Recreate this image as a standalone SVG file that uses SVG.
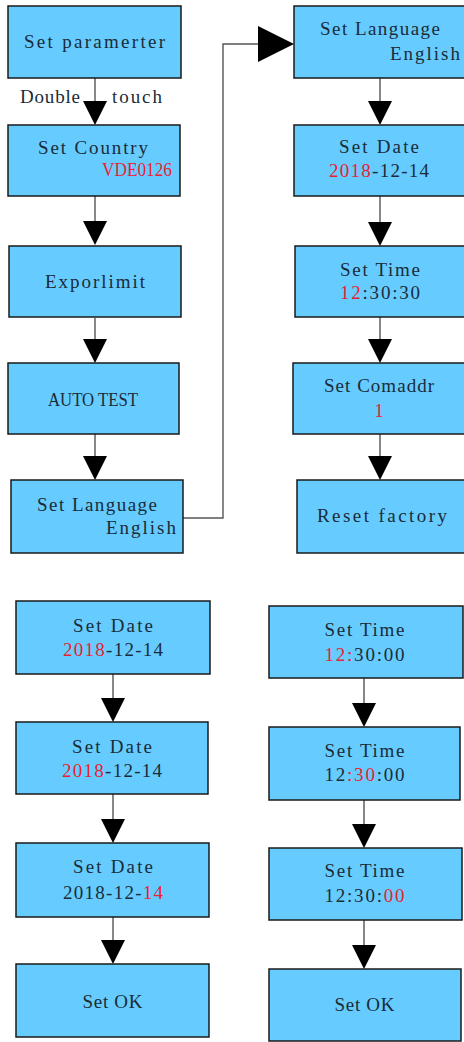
<svg xmlns="http://www.w3.org/2000/svg" width="464" height="1042" viewBox="0 0 464 1042">
<style>
.box{fill:#66ccff;stroke:#1a1a1a;stroke-width:1.5}
.t{font-family:"Liberation Serif","DejaVu Serif",serif;font-size:19px;fill:#1b2b38;text-anchor:middle}
.e{text-anchor:end}
.s{text-anchor:start}
.r{fill:#e8222f}
.ln{fill:none;stroke:#555;stroke-width:1.4}
.ah{fill:#000}
</style>
<rect width="464" height="1042" fill="#fff"/>
<g id="connectors">
<path class="ln" d="M95,78V101M95,196V221M95,318V339M95,434V456M183,518H223V44H258M380,78V101M380,196V222M380,317V339M380,434V456M113,674V698M113,794V819M113,917V940M364,678V703M364,800V824M364,920V945"/>
<polygon class="ah" points="83,101 107,101 95,125"/>
<polygon class="ah" points="83,221 107,221 95,245"/>
<polygon class="ah" points="83,339 107,339 95,363"/>
<polygon class="ah" points="83,456 107,456 95,480"/>
<polygon class="ah" points="258,26 294,44 258,62"/>
<polygon class="ah" points="368,101 392,101 380,125"/>
<polygon class="ah" points="368,222 392,222 380,246"/>
<polygon class="ah" points="368,339 392,339 380,363"/>
<polygon class="ah" points="368,456 392,456 380,480"/>
<polygon class="ah" points="101,698 125,698 113,722"/>
<polygon class="ah" points="101,819 125,819 113,843"/>
<polygon class="ah" points="101,940 125,940 113,964"/>
<polygon class="ah" points="352,703 376,703 364,727"/>
<polygon class="ah" points="352,824 376,824 364,848"/>
<polygon class="ah" points="352,945 376,945 364,969"/>
<text class="t s" x="20" y="103" textLength="60">Double</text>
<text class="t s" x="112" y="103" textLength="50">touch</text>
</g>
<g id="n1"><rect class="box" x="8" y="6" width="173" height="72"/><text class="t" x="94.5" y="48" textLength="141">Set paramerter</text></g>
<g id="n2"><rect class="box" x="8" y="125" width="172" height="71"/><text class="t" x="93" y="154" textLength="110">Set Country</text><text class="t e r" x="172" y="176" textLength="70" lengthAdjust="spacingAndGlyphs">VDE0126</text></g>
<g id="n3"><rect class="box" x="9" y="246" width="172" height="71"/><text class="t" x="95" y="288" textLength="100">Exporlimit</text></g>
<g id="n4"><rect class="box" x="8" y="363" width="171" height="71"/><text class="t" x="93" y="406" textLength="90" lengthAdjust="spacingAndGlyphs">AUTO TEST</text></g>
<g id="n5"><rect class="box" x="11" y="480" width="172" height="73"/><text class="t" x="97" y="511" textLength="120">Set Language</text><text class="t e" x="176" y="534" textLength="70">English</text></g>
<g id="r1"><rect class="box" x="294" y="6" width="175" height="72"/><text class="t" x="380" y="35" textLength="120">Set Language</text><text class="t e" x="460" y="60" textLength="70">English</text></g>
<g id="r2"><rect class="box" x="294" y="125" width="175" height="71"/><text class="t" x="379" y="153" textLength="80">Set Date</text><text class="t" x="379" y="177" textLength="100"><tspan class="r">2018</tspan>-12-14</text></g>
<g id="r3"><rect class="box" x="295" y="246" width="175" height="71"/><text class="t" x="380" y="276" textLength="80">Set Time</text><text class="t" x="380" y="299" textLength="80"><tspan class="r">12</tspan>:30:30</text></g>
<g id="r4"><rect class="box" x="293" y="363" width="175" height="71"/><text class="t" x="379" y="392" textLength="110">Set Comaddr</text><text class="t r" x="379" y="417">1</text></g>
<g id="r5"><rect class="box" x="297" y="480" width="175" height="73"/><text class="t" x="382" y="522" textLength="130">Reset factory</text></g>
<g id="b1"><rect class="box" x="16" y="601" width="194" height="73"/><text class="t" x="113" y="632" textLength="80">Set Date</text><text class="t" x="113" y="656" textLength="100"><tspan class="r">2018</tspan>-12-14</text></g>
<g id="b2"><rect class="box" x="16" y="722" width="192" height="72"/><text class="t" x="112" y="753" textLength="80">Set Date</text><text class="t" x="112" y="777" textLength="100"><tspan class="r">2018</tspan>-12-14</text></g>
<g id="b3"><rect class="box" x="16" y="843" width="193" height="74"/><text class="t" x="113" y="873" textLength="80">Set Date</text><text class="t" x="113" y="899" textLength="100">2018-12-<tspan class="r">14</tspan></text></g>
<g id="b4"><rect class="box" x="16" y="964" width="193" height="73"/><text class="t" x="112.5" y="1008" textLength="60">Set OK</text></g>
<g id="c1"><rect class="box" x="269" y="606" width="194" height="72"/><text class="t" x="364.5" y="636" textLength="80">Set Time</text><text class="t" x="364.5" y="661" textLength="80"><tspan class="r">12:</tspan>30:00</text></g>
<g id="c2"><rect class="box" x="269" y="727" width="191" height="73"/><text class="t" x="364.5" y="757" textLength="80">Set Time</text><text class="t" x="364.5" y="781" textLength="80">12<tspan class="r">:30</tspan>:00</text></g>
<g id="c3"><rect class="box" x="269" y="848" width="193" height="72"/><text class="t" x="364.5" y="877" textLength="80">Set Time</text><text class="t" x="364.5" y="902" textLength="80">12:30:<tspan class="r">00</tspan></text></g>
<g id="c4"><rect class="box" x="269" y="969" width="192" height="72"/><text class="t" x="364.5" y="1011" textLength="60">Set OK</text></g>
</svg>
